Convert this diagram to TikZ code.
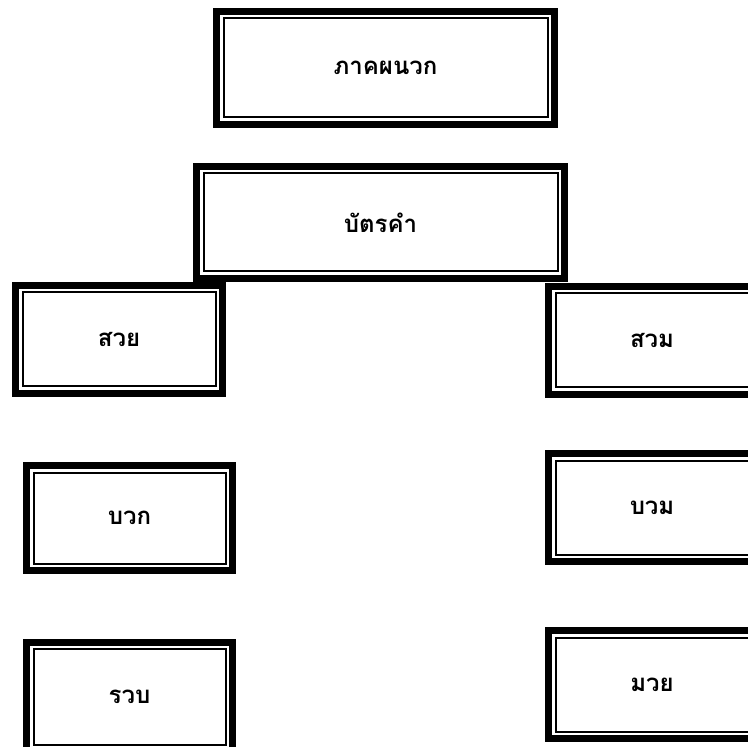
\documentclass[tikz,border=0pt]{standalone}
\usepackage{fontspec}
\newfontfamily\thaifont[Script=Thai]{Loma}
\usepackage{tikz}
\usetikzlibrary{positioning}
\tikzset{
  wordbox/.style={draw=black, line width=3.5pt, align=center, inner sep=0pt,
    minimum width=103.5pt, minimum height=54pt, font=\thaifont\bfseries\fontsize{12}{14}\selectfont,
    path picture={\draw[line width=1pt] ([shift={(3.5pt,-3.5pt)}]path picture bounding box.north west)
      rectangle ([shift={(-3.5pt,3.5pt)}]path picture bounding box.south east);}},
  headbox/.style={wordbox, minimum width=169pt, minimum height=56.5pt}
}
\begin{document}
\begin{tikzpicture}[x=0.5pt,y=-0.5pt]
\useasboundingbox (0,0) rectangle (747,747);
\node[headbox] (appendix) at (385.5,68) {ภาคผนวก};
\node[headbox, minimum width=184pt, minimum height=56pt] (cards) at (380.5,222.5) {บัตรคำ};
\node[wordbox] (suay) at (119,339.5) {สวย};
\node[wordbox] (suam) at (652,340.5) {สวม};
\node[wordbox, minimum width=103pt, minimum height=52.5pt] (buak) at (129.5,518) {บวก};
\node[wordbox] (buam) at (652,507.5) {บวม};
\node[wordbox, minimum width=103pt, minimum height=55pt] (ruap) at (129.5,697) {รวบ};
\node[wordbox] (muay) at (652,684.5) {มวย};
\end{tikzpicture}
\end{document}
